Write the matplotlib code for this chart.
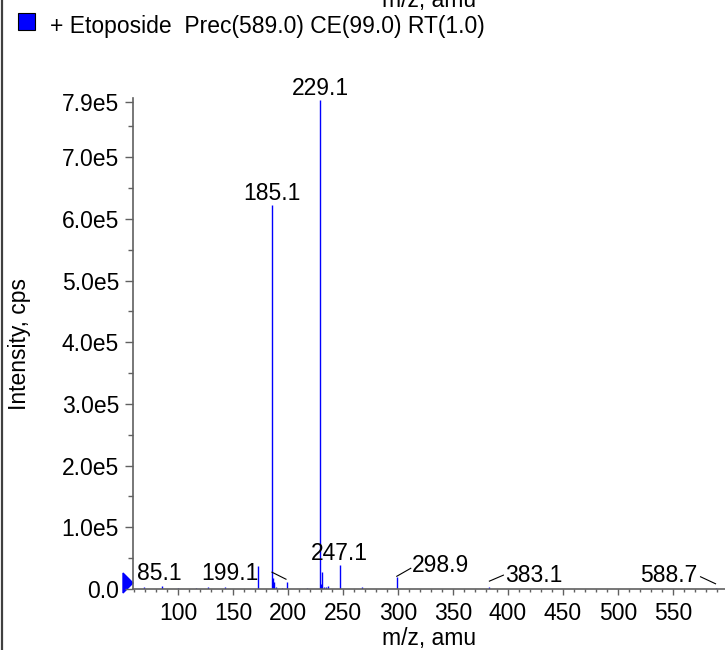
import matplotlib
matplotlib.use('Agg')
import matplotlib.pyplot as plt
import matplotlib.transforms as mtransforms
from matplotlib.patches import Polygon, Rectangle
from matplotlib.lines import Line2D
from matplotlib.ticker import FixedLocator, MultipleLocator

plt.rcParams['font.family'] = ['Liberation Sans', 'DejaVu Sans']

# product ion spectrum: m/z and intensity (cps)
peak_mz = [69.0, 85.1, 100.0, 116.0, 127.0, 143.0, 173.0, 185.1, 186.1, 187.1,
           189.0, 195.0, 199.1, 217.0, 229.1, 230.1, 231.1, 233.0, 235.0, 236.1,
           247.1, 267.0, 298.9, 383.1, 588.7]
peak_int = [3e3, 5e3, 2e3, 2e3, 3e3, 4e3, 3.7e4, 6.22e5, 1.8e4, 1.1e4,
            3e3, 2e3, 1.1e4, 2e3, 7.93e5, 8e3, 2.7e4, 3e3, 3e3, 5e3,
            3.9e4, 4e3, 1.9e4, 3e3, 2e3]

labelled_mz = [85.1, 185.1, 199.1, 229.1, 247.1, 298.9, 383.1, 588.7]

ytick_vals = [0, 1e5, 2e5, 3e5, 4e5, 5e5, 6e5, 7e5, 7.9e5]
ytick_labels = ['0.0', '1.0e5', '2.0e5', '3.0e5', '4.0e5', '5.0e5', '6.0e5', '7.0e5', '7.9e5']

title_text = '+ Etoposide  Prec(589.0) CE(99.0) RT(1.0)'

# label placement in pixels relative to the peak top: text offset, alignment, leader line
label_place = {
    85.1: ((-2, 6), 'center', None),
    185.1: ((0, 5), 'center', None),
    199.1: ((-28, 2), 'right', ((-15, 10), (-1, 3))),
    229.1: ((0, 5), 'center', None),
    247.1: ((0, 5), 'center', None),
    298.9: ((15, 5), 'left', ((0, 1), (14, 9))),
    383.1: ((16, 5), 'left', ((0, 6), (14, 12))),
    588.7: ((-18, 6), 'right', ((-15, 11), (0, 4))),
}

FS = 16.5
axis_grey = '#606060'

fig = plt.figure(figsize=(7.25, 6.5), dpi=100)
ax = fig.add_axes([133 / 725, 1 - 589 / 650, 1 - 133 / 725, (589 - 98) / 650])

ax.vlines(peak_mz, 0, peak_int, colors='#0000ff', lw=1.0)

ax.set_xlim(59.1, 597.3)
ax.set_ylim(0, 7.96e5)

for s in ['top', 'right']:
    ax.spines[s].set_visible(False)
for s in ['left', 'bottom']:
    ax.spines[s].set_color(axis_grey)
    ax.spines[s].set_linewidth(1.2)

ax.xaxis.set_major_locator(FixedLocator(list(range(100, 551, 50))))
ax.xaxis.set_minor_locator(MultipleLocator(10))
ax.yaxis.set_major_locator(FixedLocator(ytick_vals))
ax.set_yticklabels(ytick_labels)
ax.yaxis.set_minor_locator(FixedLocator([0.5e5 + i * 1e5 for i in range(8)]))

ax.tick_params(axis='y', which='major', length=6, width=1, color=axis_grey, labelsize=FS, pad=4)
ax.tick_params(axis='y', which='minor', length=3.5, width=1, color=axis_grey)
ax.tick_params(axis='x', which='major', length=4, width=1, color=axis_grey, labelsize=FS, pad=5)
ax.tick_params(axis='x', which='minor', length=2.5, width=1, color=axis_grey)

ax.set_xlabel('m/z, amu', fontsize=FS)
ax.xaxis.set_label_coords(0.5, -0.077)
ax.set_ylabel('Intensity, cps', fontsize=FS)
ax.yaxis.set_label_coords(-0.172, 0.5)

# peak labels
for mz in labelled_mz:
    inten = peak_int[peak_mz.index(mz)]
    (dx, dy), ha, leader = label_place[mz]
    trans = mtransforms.Affine2D() + mtransforms.ScaledTranslation(mz, inten, ax.transData)
    ax.text(dx, dy, '%.1f' % mz, transform=trans, ha=ha, va='baseline',
            fontsize=FS, clip_on=False)
    if leader is not None:
        (x0, y0), (x1, y1) = leader
        ax.add_line(Line2D([x0, x1], [y0, y1], transform=trans, color='k',
                           lw=0.8, clip_on=False))

# blue marker at the origin of the intensity axis
trans0 = mtransforms.Affine2D() + mtransforms.ScaledTranslation(ax.get_xlim()[0], 0, ax.transData)
ax.add_patch(Polygon([(-10, -4), (0, 6), (-10, 16)], closed=True, transform=trans0,
                     facecolor='#0000ff', edgecolor='#0000ff', clip_on=False))

# legend entry
fig.patches.append(Rectangle((18 / 725, 1 - 30 / 650), 17 / 725, 17 / 650,
                             transform=fig.transFigure, facecolor='#0000ff',
                             edgecolor='k', lw=0.8))
fig.text(50 / 725, 1 - 33 / 650, title_text, fontsize=FS, va='baseline')

# axis title of the panel above, cut off at the top edge
fig.text(429 / 725, 1 - 7 / 650, 'm/z, amu', fontsize=FS, ha='center', va='baseline')

# frame line on the left edge
fig.lines.append(Line2D([1.5 / 725, 1.5 / 725], [0, 1], transform=fig.transFigure,
                        color='#404040', lw=1.6))

fig.savefig('out.png', dpi=100)
